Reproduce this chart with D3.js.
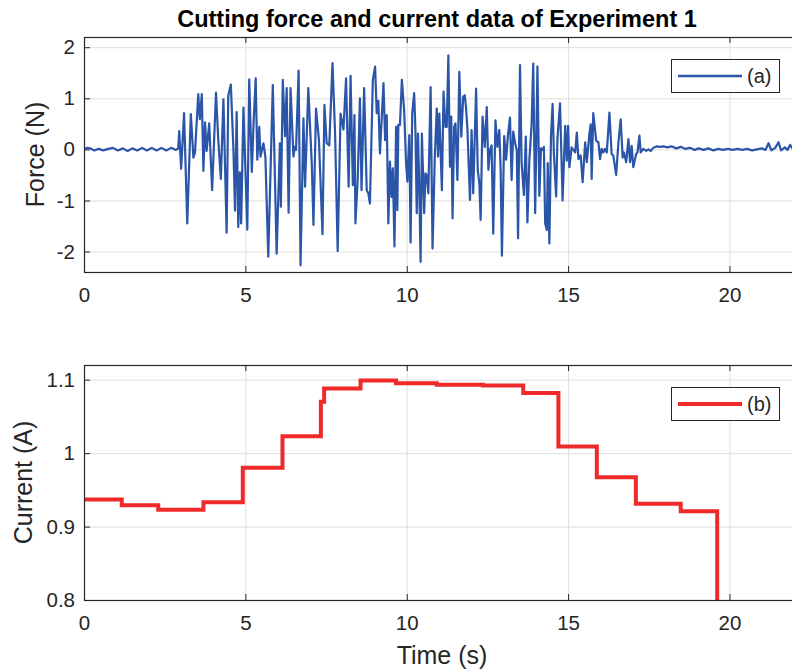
<!DOCTYPE html>
<html lang="en">
<head>
<meta charset="UTF-8">
<title>Cutting force and current data of Experiment 1</title>
<script src="https://cdn.jsdelivr.net/npm/d3@7"></script>
<style>
  body { margin: 0; background: #fff; }
  svg { font-family: "Liberation Sans", Arial, sans-serif; display: block; }
</style>
</head>
<body>
<script>
// force signal (N)
const forceTime = [
  0.00, 0.10, 0.20, 0.32, 0.45, 0.60, 0.75, 0.90, 1.05, 1.20, 1.35, 1.50, 1.65, 1.80, 1.95, 2.10, 2.25, 2.40, 2.55, 2.70, 2.85, 2.92,
  2.95, 3.01, 3.10, 3.20, 3.31, 3.39, 3.44, 3.54, 3.59, 3.65, 3.70, 3.75, 3.80, 3.88, 3.97, 4.09, 4.16, 4.24, 4.32, 4.42, 4.47, 4.55,
  4.63, 4.68, 4.73, 4.78, 4.83, 4.87, 4.94, 5.06, 5.12, 5.20, 5.25, 5.32, 5.37, 5.43, 5.47, 5.56, 5.62, 5.71, 5.85, 5.97, 6.07, 6.10,
  6.16, 6.23, 6.28, 6.34, 6.40, 6.49, 6.53, 6.57, 6.65, 6.71, 6.80, 6.85, 6.95, 7.06, 7.11, 7.19, 7.28, 7.39, 7.45, 7.52, 7.60, 7.70,
  7.78, 7.86, 7.95, 8.04, 8.12, 8.20, 8.26, 8.33, 8.38, 8.41, 8.48, 8.55, 8.60, 8.68, 8.76, 8.81, 8.86, 8.95, 9.02, 9.07, 9.12, 9.17,
  9.28, 9.33, 9.38, 9.43, 9.48, 9.53, 9.57, 9.62, 9.67, 9.71, 9.74, 9.79, 9.85, 9.92, 9.98, 10.02, 10.08, 10.12, 10.17, 10.23, 10.27,
  10.31, 10.35, 10.39, 10.43, 10.47, 10.54, 10.58, 10.62, 10.67, 10.74, 10.80, 10.87, 10.93, 10.97, 11.01, 11.09, 11.14, 11.20, 11.24,
  11.29, 11.34, 11.38, 11.42, 11.47, 11.51, 11.57, 11.63, 11.69, 11.75, 11.80, 11.84, 11.88, 11.96, 12.01, 12.06, 12.15, 12.20, 12.25,
  12.29, 12.35, 12.42, 12.48, 12.53, 12.58, 12.63, 12.68, 12.75, 12.81, 12.87, 12.91, 12.95, 13.02, 13.08, 13.14, 13.20, 13.25, 13.30,
  13.36, 13.41, 13.45, 13.51, 13.56, 13.63, 13.69, 13.74, 13.80, 13.87, 13.92, 13.98, 14.05, 14.11, 14.16, 14.21, 14.25, 14.29, 14.34,
  14.37, 14.42, 14.47, 14.52, 14.56, 14.63, 14.67, 14.75, 14.83, 14.91, 14.96, 15.00, 15.04, 15.11, 15.22, 15.27, 15.32, 15.39, 15.45,
  15.53, 15.58, 15.66, 15.70, 15.73, 15.78, 15.87, 15.94, 15.99, 16.04, 16.09, 16.14, 16.20, 16.28, 16.35, 16.40, 16.49, 16.56, 16.63,
  16.69, 16.73, 16.80, 16.87, 16.92, 16.97, 17.02, 17.11, 17.15, 17.21, 17.25, 17.33, 17.42, 17.49, 17.56, 17.64, 17.75, 17.83,
  17.95, 18.08, 18.20, 18.35, 18.50, 18.62, 18.78, 18.92, 19.05, 19.20, 19.35, 19.50, 19.65, 19.80, 19.95, 20.10, 20.25, 20.40, 20.55,
  20.70, 20.85, 21.00, 21.12, 21.21, 21.30, 21.42, 21.52, 21.60, 21.72, 21.80, 21.88, 21.95, 22.00
];
const forceValue = [
  0.00, 0.03, 0.02, -0.02, 0.01, -0.02, 0.01, 0.03, -0.02, 0.02, -0.03, 0.02, -0.02, 0.03, -0.02, 0.03, -0.02, 0.03, -0.02, 0.03, -0.01, 0.02,
  0.36, -0.38, 0.71, -1.45, 0.69, -0.16, -0.06, 1.08, 0.59, 1.08, -0.42, 0.53, -0.03, 0.51, -0.80, 1.11, 0.20, -0.58, 0.98, -1.63, 1.05, 1.27,
  0.00, -1.20, 0.73, -1.52, -0.45, -1.45, 0.82, -1.57, 1.37, -0.44, 0.44, 1.39, -0.20, 0.44, -0.14, 0.12, -0.14, -2.10, 1.26, -2.04, 0.12, -1.12,
  1.36, 0.26, 1.20, -1.24, 1.20, -0.14, 0.05, -0.01, 1.54, -2.27, 0.61, -0.73, 1.20, -0.31, -1.48, 0.80, 0.18, -1.66, 0.87, 0.12, 0.08, 1.69,
  0.31, -1.99, 0.70, 0.39, 1.39, -0.73, 1.44, -0.70, 0.67, -1.45, -0.60, 1.00, -0.80, 1.20, -0.80, -0.86, -1.06, 1.36, 1.62, 0.71, 0.95, -0.08,
  1.30, 0.18, 0.67, -1.45, -0.24, -0.93, -0.37, -1.90, 0.44, -1.19, 0.48, 0.48, 1.36, 0.77, -0.27, -0.63, 0.28, -1.82, 0.70, 1.10, 0.38,
  -1.25, 0.31, -0.80, -2.20, 0.31, -1.25, -0.47, -0.50, -0.86, 1.22, -1.94, -0.14, 0.80, -0.14, 0.70, -0.80, 1.13, 0.44, 0.44,
  1.84, -0.34, 0.64, -1.35, 0.44, 0.51, -0.60, 1.52, 0.25, 1.03, 1.06, 0.80, 0.41, -0.99, 0.38, -0.86, 1.19, -0.40, -0.66,
  -1.38, 0.64, 0.05, 0.83, -0.40, -0.01, 0.08, -1.65, 0.57, 0.05, 0.38, -0.40, -2.08, 0.26, -0.20, 0.30, 0.62, -0.60, 0.35,
  0.12, -0.01, -1.74, 1.65, -0.27, -0.89, 0.25, -1.43, -0.20, 0.48, 1.68, -1.25, 1.62, -0.91, 0.02, -0.01, 0.05, -1.45, -1.58,
  -0.27, -1.84, 0.25, 0.89, -0.08, -0.92, 0.21, 0.90, -1.00, 0.46, -0.22, 0.46, -0.35, 0.04, -0.06, 0.33, -0.19, -0.12, -0.64,
  0.14, -0.25, 0.30, 0.49, -0.58, 0.71, 0.17, 0.14, -0.19, 0.01, -0.06, 0.01, -0.06, 0.72, -0.09, -0.12, -0.50, 0.14, 0.59,
  -0.16, -0.06, -0.25, 0.20, -0.25, 0.07, -0.35, -0.09, -0.06, 0.27, -0.06, 0.01, -0.03, 0.00, -0.03, 0.03, 0.06, 0.05,
  0.06, 0.04, 0.06, 0.02, 0.05, 0.01, 0.03, -0.01, 0.02, -0.01, 0.02, -0.02, 0.01, -0.01, 0.01, -0.01, 0.01, -0.01, 0.01,
  -0.02, 0.00, 0.02, -0.01, 0.12, -0.02, 0.03, 0.14, -0.02, 0.04, -0.01, 0.09, 0.02, 0.06
];

// current (A): time each level starts, and its level
const currentTime  = [0, 1.17, 2.30, 3.70, 4.92, 6.15, 7.34, 7.44, 8.57, 9.67, 10.93, 12.36, 13.61, 14.70, 15.89, 17.10, 18.49, 19.62];
const currentValue = [0.937, 0.929, 0.923, 0.933, 0.980, 1.023, 1.070, 1.088, 1.099, 1.095, 1.093, 1.092, 1.082, 1.009, 0.967, 0.931, 0.921, 0.60];

const xTicks = [0, 5, 10, 15, 20];
const forceTicks = [-2, -1, 0, 1, 2];
const currentTicks = [0.8, 0.9, 1.0, 1.1];

const width = 792, height = 670;
const left = 84, right = 794;
const ink = "#262626", gridColor = "#dfdfdf";
const tickFont = 20.5, labelFont = 25;

const svg = d3.select("body").append("svg").attr("width", width).attr("height", height);

const x = d3.scaleLinear().domain([0, 22]).range([left, right]);

function panel(top, bottom, y, yTicks, yFmt, id) {
  const g = svg.append("g");
  const h = bottom - top;

  // grid
  g.append("g").attr("transform", `translate(0,${bottom})`)
    .call(d3.axisBottom(x).tickValues(xTicks).tickSize(-h).tickFormat(""))
    .call(a => a.select(".domain").remove())
    .selectAll("line").attr("stroke", gridColor);
  g.append("g").attr("transform", `translate(${left},0)`)
    .call(d3.axisLeft(y).tickValues(yTicks).tickSize(-(right - left)).tickFormat(""))
    .call(a => a.select(".domain").remove())
    .selectAll("line").attr("stroke", gridColor);

  // inward ticks on all sides
  g.append("g").attr("transform", `translate(0,${bottom})`)
    .call(d3.axisBottom(x).tickValues(xTicks).tickSize(-6).tickFormat(""))
    .call(a => a.select(".domain").remove())
    .selectAll("line").attr("stroke", ink);
  g.append("g").attr("transform", `translate(0,${top})`)
    .call(d3.axisTop(x).tickValues(xTicks).tickSize(-6).tickFormat(""))
    .call(a => a.select(".domain").remove())
    .selectAll("line").attr("stroke", ink);
  g.append("g").attr("transform", `translate(${left},0)`)
    .call(d3.axisLeft(y).tickValues(yTicks).tickSize(-6).tickFormat(""))
    .call(a => a.select(".domain").remove())
    .selectAll("line").attr("stroke", ink);

  // tick labels
  g.append("g").attr("transform", `translate(0,${bottom})`)
    .call(d3.axisBottom(x).tickValues(xTicks).tickSize(0).tickPadding(15).tickFormat(d => String(d)))
    .call(a => a.select(".domain").remove())
    .selectAll("text").attr("font-size", tickFont).attr("fill", ink).attr("font-family", null);
  g.append("g").attr("transform", `translate(${left},0)`)
    .call(d3.axisLeft(y).tickValues(yTicks).tickSize(0).tickPadding(9).tickFormat(yFmt))
    .call(a => a.select(".domain").remove())
    .selectAll("text").attr("font-size", tickFont).attr("fill", ink).attr("font-family", null);

  g.append("clipPath").attr("id", id)
    .append("rect").attr("x", left).attr("y", top).attr("width", right - left).attr("height", h);

  return { g, top, bottom, h };
}

function box(p) {
  p.g.append("rect")
    .attr("x", left + 0.5).attr("y", p.top + 0.5)
    .attr("width", right - left).attr("height", p.h)
    .attr("fill", "none").attr("stroke", ink).attr("stroke-width", 1.2);
}

function legend(p, label, color, lw) {
  const lx = 671, ly = p.top + 22, lwid = 108, lh = 33;
  const lg = p.g.append("g");
  lg.append("rect").attr("x", lx + 0.5).attr("y", ly + 0.5).attr("width", lwid).attr("height", lh)
    .attr("fill", "#fff").attr("stroke", ink).attr("stroke-width", 1);
  lg.append("line").attr("x1", lx + 7).attr("x2", lx + 71)
    .attr("y1", ly + lh / 2 + 0.5).attr("y2", ly + lh / 2 + 0.5)
    .attr("stroke", color).attr("stroke-width", lw);
  lg.append("text").attr("x", lx + 76).attr("y", ly + lh / 2 + 0.5).attr("dy", "0.35em")
    .attr("font-size", 20).attr("fill", ink).text(label);
}

// --- top: force ---
const y1 = d3.scaleLinear().domain([-2.4, 2.2]).range([272, 37]);
const p1 = panel(37, 272, y1, forceTicks, d => String(d), "clip1");
const forceData = forceTime.map((t, i) => [t, forceValue[i]]);
p1.g.append("path")
  .datum(forceData)
  .attr("clip-path", "url(#clip1)")
  .attr("fill", "none").attr("stroke", "#2a55a8").attr("stroke-width", 2.2).attr("stroke-linejoin", "round")
  .attr("d", d3.line().x(d => x(d[0])).y(d => y1(d[1])));
box(p1);
legend(p1, "(a)", "#2a55a8", 2.6);

p1.g.append("text").attr("transform", `translate(44,${(37 + 272) / 2}) rotate(-90)`)
  .attr("text-anchor", "middle").attr("font-size", labelFont).attr("fill", ink).text("Force (N)");

// --- bottom: current ---
const y2 = d3.scaleLinear().domain([0.8, 1.12]).range([600, 365]);
const p2 = panel(365, 600, y2, currentTicks, d => d === 1 ? "1" : d3.format(".1f")(d), "clip2");
const currentData = currentTime.map((t, i) => [t, currentValue[i]]);
p2.g.append("path")
  .datum(currentData)
  .attr("clip-path", "url(#clip2)")
  .attr("fill", "none").attr("stroke", "#ee2a2a").attr("stroke-width", 4)
  .attr("d", d3.line().curve(d3.curveStepAfter).x(d => x(d[0])).y(d => y2(d[1])));
box(p2);
legend(p2, "(b)", "#ee2a2a", 4);

p2.g.append("text").attr("transform", `translate(32,${(365 + 600) / 2}) rotate(-90)`)
  .attr("text-anchor", "middle").attr("font-size", labelFont).attr("fill", ink).text("Current (A)");

svg.append("text").attr("x", 442).attr("y", 664).attr("text-anchor", "middle")
  .attr("font-size", labelFont).attr("fill", ink).text("Time (s)");

svg.append("text").attr("x", 437).attr("y", 27).attr("text-anchor", "middle")
  .attr("font-size", 23.5).attr("font-weight", "bold").attr("fill", "#000")
  .text("Cutting force and current data of Experiment 1");
</script>
</body>
</html>
